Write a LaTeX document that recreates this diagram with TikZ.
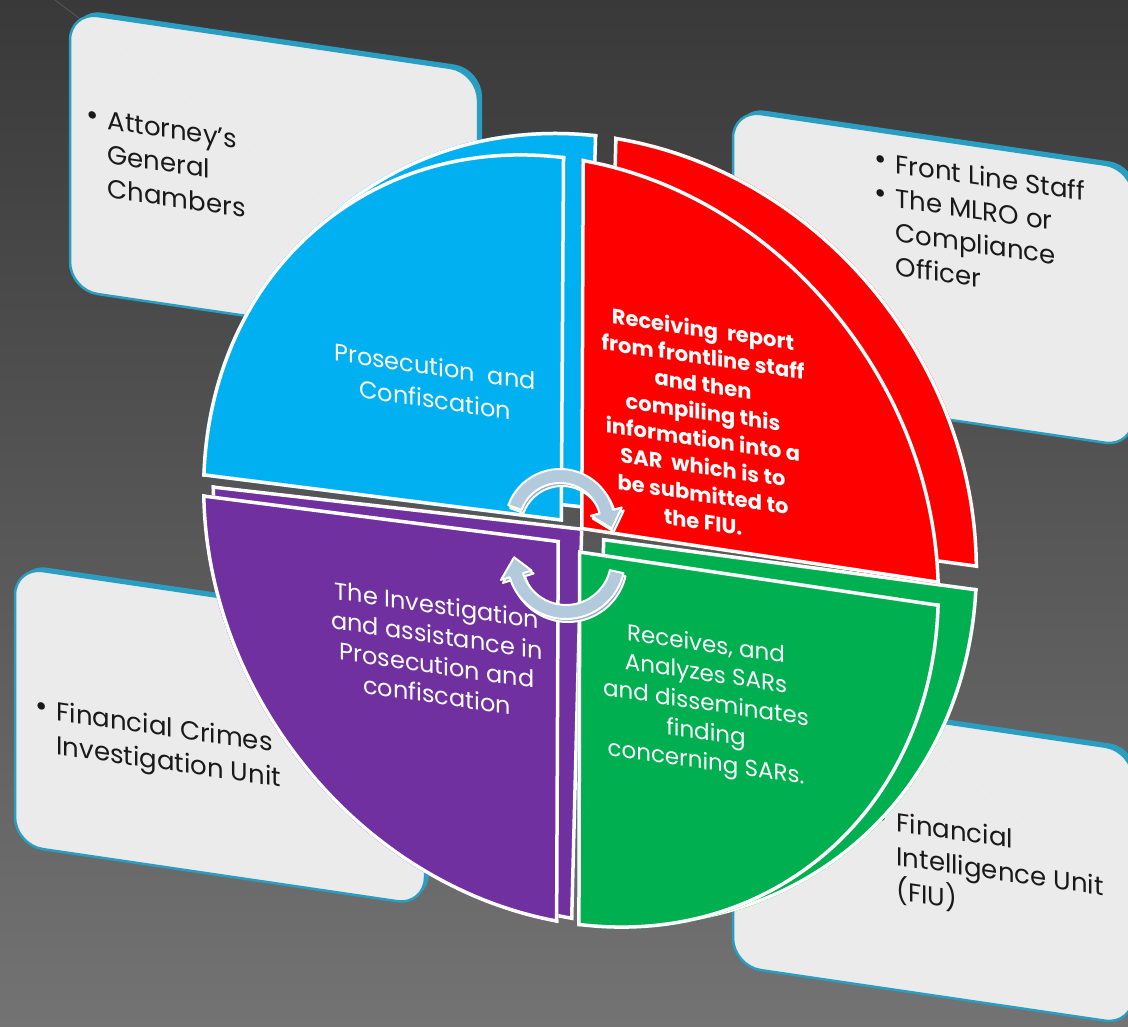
\documentclass[tikz,border=0pt]{standalone}
\usepackage{fontspec}
\setmainfont{Poppins}
\definecolor{qblue}{HTML}{00B0F0}
\definecolor{qred}{HTML}{FF0000}
\definecolor{qgreen}{HTML}{00B050}
\definecolor{qpurple}{HTML}{7030A0}
\definecolor{cardfill}{HTML}{EBEBEB}
\definecolor{cardedge}{HTML}{2A9EC0}
\definecolor{arrowfill}{HTML}{B2CADB}
\definecolor{arrowside}{HTML}{8DAEC3}
\definecolor{bgtop}{HTML}{393939}
\definecolor{bgbot}{HTML}{737373}
\newcommand\mybul{\raisebox{2pt}{\fontsize{30}{30}\selectfont\textbullet}}
\newcommand\myquad[2]{%
  \begin{scope}
    \clip #2;
    \clip[rotate around={-55:(571,541)}] (571,541) ellipse [x radius=405, y radius=350];
    \fill[#1] (-50,-50) rectangle (1200,1100);
    \draw[white, line width=7, rotate around={-55:(571,541)}] (571,541) ellipse [x radius=405, y radius=350];
    \draw[white, line width=7] #2;
  \end{scope}}
\newcommand\mycard[4]{%
  \begin{scope}[shift={(#1,#2)}, yslant=-0.147]
    \fill[cardshadow] (4,-4) rectangle ++(#3,#4);
    \draw[cardbody] (0,0) rectangle ++(#3,#4);
  \end{scope}}
\newcommand\allquads{%
  \myquad{qblue}{(563,522) -- (566,40) -- (100,40) -- (100,463.5) -- cycle}
  \myquad{qred}{(580,530) -- (582,40) -- (1060,40) -- (1060,602.3) -- cycle}
  \myquad{qgreen}{(578,550) -- (1060,621.6) -- (1060,1010) -- (577,1010) -- cycle}
  \myquad{qpurple}{(560,540) -- (558,1010) -- (100,1010) -- (100,481) -- cycle}}
\begin{document}
\begin{tikzpicture}[x=1pt, y=-1pt,
  cardbody/.style={fill=cardfill, draw=cardedge, line width=2.5, rounded corners=28},
  cardshadow/.style={fill=cardedge, rounded corners=28},
  cardtext/.style={anchor=north west, inner sep=0, yslant=-0.147, text=black!90, font=\fontsize{26}{34}\selectfont},
  pietext/.style={inner sep=0, yslant=-0.147, text=white, align=center},
  arrowbody/.style={fill=arrowfill, draw=white, line width=2, line join=round},
  arrowshade/.style={fill=arrowside, draw=white, line width=2, line join=round},
  faint/.style={white, opacity=0.13, line width=1}]
\useasboundingbox (0,0) rectangle (1128,1027);
\shade[top color=bgtop, bottom color=bgbot] (0,0) rectangle (1128,1027);
% cards
\mycard{70}{12}{408}{278}
\mycard{733}{110}{400}{278}
\mycard{15}{567}{410}{278}
\mycard{733}{692}{400}{274}
\draw[faint] (55,0) -- (560,380);
\draw[faint] (790,640) -- (1128,905);
\node[cardtext] (c1t) at (86,102) {\begin{tabular}{@{}l@{\hspace{9pt}}l@{}}\mybul & Attorney’s\\ & General\\ & Chambers\end{tabular}};
\node[cardtext] (c2t) at (874,146) {\begin{tabular}{@{}l@{\hspace{9pt}}l@{}}\mybul & Front Line Staff\\ \mybul & The MLRO or\\ & Compliance\\ & Officer\end{tabular}};
\node[cardtext] (c3t) at (35,693) {\begin{tabular}{@{}l@{\hspace{9pt}}l@{}}\mybul & Financial Crimes\\ & Investigation Unit\end{tabular}};
\node[cardtext] (c4t) at (875,804) {\begin{tabular}{@{}l@{\hspace{9pt}}l@{}}\mybul & Financial\\ & Intelligence Unit\\ & (FIU)\end{tabular}};
% pie: back faces then front faces
\begin{scope}[cm={1.0413,0.0127,0.0218,1.0248,(12.1,-18.6)}]
  \allquads
\end{scope}
\allquads
% cycle arrows
\draw[arrowshade, shift={(2,3)}] ([shift={(560,524)}]200:55) arc[start angle=200, end angle=345, radius=55] -- ([shift={(560,524)}]345:64) -- ([shift={(560,524)}]5:52) -- ([shift={(560,524)}]345:32) -- ([shift={(560,524)}]345:41) arc[start angle=345, end angle=200, radius=41] -- cycle;
\draw[arrowbody] ([shift={(560,524)}]200:55) arc[start angle=200, end angle=345, radius=55] -- ([shift={(560,524)}]345:64) -- ([shift={(560,524)}]5:52) -- ([shift={(560,524)}]345:32) -- ([shift={(560,524)}]345:41) arc[start angle=345, end angle=200, radius=41] -- cycle;
\draw[arrowshade, shift={(2,3)}] ([shift={(566,560)}]13:59) arc[start angle=13, end angle=163, radius=59] -- ([shift={(566,560)}]163:68) -- ([shift={(566,560)}]183:52) -- ([shift={(566,560)}]163:36) -- ([shift={(566,560)}]163:45) arc[start angle=163, end angle=13, radius=45] -- cycle;
\draw[arrowbody] ([shift={(566,560)}]13:59) arc[start angle=13, end angle=163, radius=59] -- ([shift={(566,560)}]163:68) -- ([shift={(566,560)}]183:52) -- ([shift={(566,560)}]163:36) -- ([shift={(566,560)}]163:45) arc[start angle=163, end angle=13, radius=45] -- cycle;
% pie texts
\node[pietext, font=\fontsize{24}{33}\selectfont] (tb) at (435,383) {Prosecution\ \ and\\Confiscation};
\node[pietext, font=\fontsize{21}{27.5}\selectfont\bfseries] (tr) at (703,425) {Receiving\ \ report\\from frontline staff\\and then\\compiling this\\information into a\\SAR\ \ which is to\\be submitted to\\the FIU.};
\node[pietext, font=\fontsize{23}{29.5}\selectfont] (tg) at (706,705) {Receives, and\\Analyzes SARs\\and disseminates\\finding\\concerning SARs.};
\node[pietext, font=\fontsize{24}{30}\selectfont] (tp) at (437,650) {The Investigation\\and assistance in\\Prosecution and\\confiscation};
\end{tikzpicture}
\end{document}
